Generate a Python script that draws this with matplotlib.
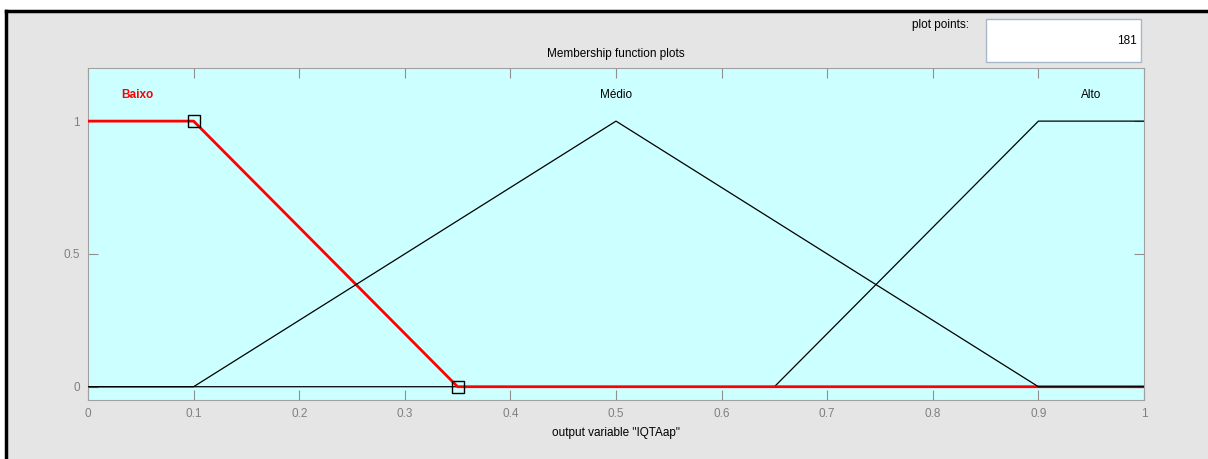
import matplotlib.pyplot as plt
from matplotlib.patches import Rectangle
from matplotlib.lines import Line2D

# membership functions of output variable "IQTAap"
x_baixo = [0, 0.1, 0.35, 1]
y_baixo = [1, 1, 0, 0]
x_medio = [0, 0.1, 0.5, 0.9, 1]
y_medio = [0, 0, 1, 0, 0]
x_alto = [0, 0.65, 0.9, 1]
y_alto = [0, 0, 1, 1]
names = ['Baixo', 'Médio', 'Alto']
name_x = [0.047, 0.5, 0.95]
xticks = [0, 0.1, 0.2, 0.3, 0.4, 0.5, 0.6, 0.7, 0.8, 0.9, 1]
yticks = [0, 0.5, 1]
plot_points = 181

plt.rcParams['font.family'] = ['Liberation Sans', 'DejaVu Sans']
W, H = 1208, 459
fig = plt.figure(figsize=(W / 100, H / 100), dpi=100)
fig.patch.set_facecolor('white')

# gray panel, black frame on top and left only
fig.patches.append(Rectangle((6 / W, 0), 1, 1 - 11 / H, transform=fig.transFigure,
                             facecolor='#e5e5e5', edgecolor='none', zorder=-10))
fig.lines.append(Line2D([6 / W, 1], [1 - 11 / H, 1 - 11 / H], transform=fig.transFigure,
                        color='black', lw=2.5))
fig.lines.append(Line2D([6 / W, 6 / W], [0, 1 - 11 / H], transform=fig.transFigure,
                        color='black', lw=2.5))

ax = fig.add_axes([88 / W, 1 - 400 / H, (1144 - 88) / W, (400 - 68) / H])
ax.set_facecolor('#ccffff')
ax.plot(x_alto, y_alto, color='black', lw=0.9, zorder=2)
ax.plot(x_baixo, y_baixo, color='red', lw=2.0, zorder=3)
ax.plot(x_medio, y_medio, color='black', lw=0.9, zorder=4)
ax.plot([x_baixo[1], x_baixo[2]], [y_baixo[1], y_baixo[2]], ls='none', marker='s',
        ms=8, mfc='none', mec='black', mew=1, zorder=5)

for n, nx in zip(names, name_x):
    if n == 'Baixo':
        ax.text(nx, 1.1, n, color='red', fontweight='bold', fontsize=8.5, ha='center', va='center')
    else:
        ax.text(nx, 1.1, n, color='black', fontsize=8.5, ha='center', va='center')

ax.set_xlim(0, 1)
ax.set_ylim(-0.05, 1.2)
ax.set_xticks(xticks)
ax.set_xticklabels([('%g' % t) for t in xticks])
ax.set_yticks(yticks)
ax.set_yticklabels([('%g' % t) for t in yticks])
ax.tick_params(direction='in', length=7, color='#909090', labelcolor='#808080',
               labelsize=8.5, top=True, right=True, pad=6)
for s in ax.spines.values():
    s.set_color('#a0a0a0')
ax.set_xlabel('output variable "IQTAap"', fontsize=8.5, labelpad=5)
ax.set_title('Membership function plots', fontsize=8.5, pad=8)

# plot points box
fig.text(969 / W, 1 - 25 / H, 'plot points:', fontsize=8.5, ha='right', va='center')
box = Rectangle((986 / W, 1 - 62 / H), (1141 - 986) / W, 43 / H, transform=fig.transFigure,
                facecolor='white', edgecolor='#a8b8c8', linewidth=1)
fig.patches.append(box)
fig.text(1137 / W, 1 - 41 / H, str(plot_points), fontsize=8.5, ha='right', va='center')

fig.savefig('out.png', dpi=100)
